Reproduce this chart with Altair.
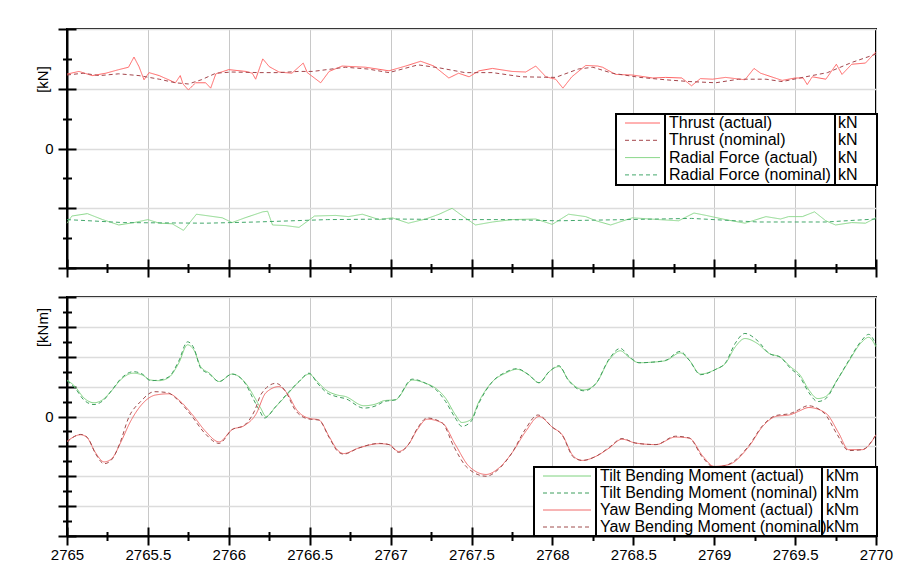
import altair as alt
import pandas as pd

# ---------------- data ----------------
thrust_act_t = [2765.0, 2765.074, 2765.156, 2765.24, 2765.32, 2765.38, 2765.414, 2765.445, 2765.476, 2765.507,
                2765.57, 2765.67, 2765.70, 2765.717, 2765.75, 2765.795, 2765.857, 2765.888, 2765.92, 2766.0,
                2766.105, 2766.145, 2766.166, 2766.21, 2766.25, 2766.31, 2766.39, 2766.46, 2766.485, 2766.568,
                2766.62, 2766.70, 2766.846, 2766.99, 2767.093, 2767.186, 2767.268, 2767.36, 2767.42, 2767.485,
                2767.546, 2767.63, 2767.75, 2767.835, 2767.897, 2767.96, 2768.02, 2768.065, 2768.12, 2768.206,
                2768.28, 2768.31, 2768.39, 2768.494, 2768.62, 2768.70, 2768.80, 2768.86, 2768.915, 2768.99,
                2769.07, 2769.19, 2769.246, 2769.287, 2769.42, 2769.50, 2769.55, 2769.575, 2769.606, 2769.69,
                2769.755, 2769.79, 2769.85, 2769.935, 2770.0]
thrust_act_v = [1.245, 1.29, 1.22, 1.26, 1.32, 1.36, 1.53, 1.37, 1.15, 1.27,
                1.22, 1.10, 1.22, 1.08, 0.98, 1.10, 1.10, 1.01, 1.25, 1.32,
                1.29, 1.26, 1.16, 1.50, 1.37, 1.28, 1.26, 1.43, 1.27, 1.10,
                1.29, 1.38, 1.36, 1.30, 1.38, 1.46, 1.38, 1.18, 1.26, 1.20,
                1.30, 1.34, 1.29, 1.28, 1.38, 1.20, 1.16, 1.01, 1.20, 1.39,
                1.38, 1.36, 1.24, 1.23, 1.18, 1.19, 1.18, 1.05, 1.17, 1.16,
                1.19, 1.15, 1.34, 1.26, 1.14, 1.18, 1.18, 1.07, 1.20, 1.16,
                1.41, 1.24, 1.41, 1.43, 1.62]

thrust_nom_t = [2765.0, 2765.1, 2765.2, 2765.32, 2765.445, 2765.57, 2765.67, 2765.75, 2765.83, 2765.92,
                2766.02, 2766.19, 2766.31, 2766.43, 2766.52, 2766.72, 2766.86, 2766.99, 2767.17, 2767.30,
                2767.46, 2767.63, 2767.81, 2768.02, 2768.16, 2768.25, 2768.37, 2768.54, 2768.70, 2768.85,
                2769.01, 2769.15, 2769.32, 2769.42, 2769.565, 2769.70, 2769.85, 2770.0]
thrust_nom_v = [1.23, 1.26, 1.22, 1.25, 1.22, 1.16, 1.10, 1.08, 1.15, 1.26,
                1.28, 1.27, 1.27, 1.29, 1.29, 1.36, 1.33, 1.27, 1.40, 1.35,
                1.27, 1.27, 1.20, 1.19, 1.33, 1.36, 1.26, 1.19, 1.15, 1.12,
                1.10, 1.16, 1.16, 1.12, 1.20, 1.27, 1.44, 1.58]

radial_act_t = [2765.0, 2765.03, 2765.126, 2765.22, 2765.32, 2765.414, 2765.5, 2765.57, 2765.65, 2765.72,
                2765.80, 2765.88, 2765.96, 2766.02, 2766.1, 2766.21, 2766.24, 2766.27, 2766.35, 2766.434,
                2766.53, 2766.66, 2766.74, 2766.825, 2766.93, 2767.01, 2767.11, 2767.217, 2767.30, 2767.38,
                2767.44, 2767.525, 2767.63, 2767.75, 2767.897, 2767.999, 2768.10, 2768.206, 2768.27, 2768.36,
                2768.494, 2768.66, 2768.78, 2768.875, 2768.95, 2769.07, 2769.19, 2769.32, 2769.41, 2769.46,
                2769.545, 2769.62, 2769.69, 2769.75, 2769.85, 2769.935, 2770.0]
radial_act_v = [-1.25, -1.13, -1.09, -1.19, -1.28, -1.24, -1.19, -1.25, -1.26, -1.37,
                -1.10, -1.13, -1.16, -1.24, -1.16, -1.06, -1.05, -1.28, -1.29, -1.32,
                -1.13, -1.12, -1.14, -1.10, -1.19, -1.16, -1.25, -1.18, -1.10, -1.00,
                -1.12, -1.28, -1.23, -1.19, -1.18, -1.27, -1.10, -1.14, -1.21, -1.28,
                -1.16, -1.19, -1.21, -1.08, -1.12, -1.19, -1.25, -1.14, -1.18, -1.14,
                -1.14, -1.06, -1.21, -1.28, -1.24, -1.25, -1.16]

radial_nom_t = [2765.0, 2765.35, 2765.86, 2766.17, 2766.61, 2767.01, 2767.43, 2767.72, 2768.03, 2768.45,
                2768.86, 2769.27, 2769.69, 2770.0]
radial_nom_v = [-1.19, -1.24, -1.25, -1.23, -1.19, -1.18, -1.19, -1.19, -1.21, -1.19,
                -1.17, -1.23, -1.23, -1.18]

tilt_act_t = [2765.0, 2765.05, 2765.105, 2765.167, 2765.22, 2765.28, 2765.33, 2765.41, 2765.465, 2765.517,
              2765.57, 2765.63, 2765.69, 2765.745, 2765.785, 2765.826, 2765.88, 2765.94, 2766.02, 2766.105,
              2766.156, 2766.197, 2766.23, 2766.29, 2766.35, 2766.434, 2766.496, 2766.547, 2766.6, 2766.67,
              2766.72, 2766.835, 2766.91, 2766.96, 2767.03, 2767.134, 2767.217, 2767.28, 2767.34, 2767.40,
              2767.44, 2767.495, 2767.546, 2767.63, 2767.71, 2767.78, 2767.855, 2767.917, 2767.98, 2768.04,
              2768.10, 2768.195, 2768.27, 2768.35, 2768.42, 2768.47, 2768.535, 2768.62, 2768.70, 2768.79,
              2768.845, 2768.915, 2769.01, 2769.07, 2769.13, 2769.19, 2769.265, 2769.34, 2769.41, 2769.47,
              2769.53, 2769.585, 2769.64, 2769.69, 2769.76, 2769.83, 2769.905, 2769.955, 2770.0]
tilt_act_v = [1.22, 1.00, 0.62, 0.46, 0.56, 0.89, 1.22, 1.45, 1.39, 1.22,
              1.20, 1.31, 1.78, 2.40, 2.22, 1.67, 1.45, 1.17, 1.42, 1.11,
              0.67, 0.28, 0.00, 0.33, 0.67, 1.17, 1.42, 1.17, 0.89, 0.72,
              0.67, 0.36, 0.42, 0.53, 0.56, 1.22, 1.11, 0.94, 0.61, 0.06,
              -0.20, -0.11, 0.50, 1.17, 1.45, 1.58, 1.39, 1.13, 1.50, 1.67,
              1.22, 0.89, 1.11, 1.89, 2.20, 2.00, 1.80, 1.82, 1.87, 2.13,
              1.89, 1.42, 1.58, 1.78, 2.33, 2.61, 2.45, 2.11, 1.98, 1.67,
              1.39, 0.89, 0.60, 0.67, 1.22, 1.83, 2.45, 2.65, 2.33]

tilt_nom_t = [2765.0, 2765.05, 2765.105, 2765.167, 2765.22, 2765.28, 2765.33, 2765.41, 2765.465, 2765.517,
              2765.57, 2765.63, 2765.69, 2765.745, 2765.785, 2765.826, 2765.88, 2765.94, 2766.02, 2766.105,
              2766.15, 2766.19, 2766.22, 2766.29, 2766.35, 2766.434, 2766.496, 2766.547, 2766.6, 2766.67,
              2766.72, 2766.835, 2766.91, 2766.96, 2767.03, 2767.134, 2767.217, 2767.28, 2767.34, 2767.40,
              2767.44, 2767.495, 2767.546, 2767.63, 2767.71, 2767.78, 2767.855, 2767.917, 2767.98, 2768.04,
              2768.10, 2768.195, 2768.27, 2768.35, 2768.42, 2768.47, 2768.535, 2768.62, 2768.70, 2768.79,
              2768.845, 2768.915, 2769.01, 2769.07, 2769.13, 2769.19, 2769.265, 2769.34, 2769.41, 2769.47,
              2769.53, 2769.585, 2769.64, 2769.69, 2769.76, 2769.83, 2769.905, 2769.955, 2770.0]
tilt_nom_v = [1.20, 0.95, 0.55, 0.40, 0.52, 0.90, 1.25, 1.50, 1.42, 1.20,
              1.22, 1.33, 1.85, 2.50, 2.28, 1.62, 1.42, 1.17, 1.42, 1.08,
              0.60, 0.20, -0.05, 0.33, 0.70, 1.17, 1.45, 1.12, 0.82, 0.66,
              0.60, 0.28, 0.36, 0.50, 0.56, 1.25, 1.11, 0.90, 0.50, -0.05,
              -0.33, -0.18, 0.45, 1.17, 1.48, 1.60, 1.39, 1.13, 1.50, 1.70,
              1.20, 0.86, 1.11, 1.92, 2.28, 2.03, 1.80, 1.82, 1.88, 2.18,
              1.89, 1.40, 1.58, 1.80, 2.45, 2.78, 2.55, 2.11, 1.98, 1.62,
              1.32, 0.80, 0.50, 0.60, 1.22, 1.86, 2.50, 2.75, 2.40]

yaw_act_t = [2765.0, 2765.085, 2765.126, 2765.177, 2765.23, 2765.28, 2765.33, 2765.394, 2765.465, 2765.548,
             2765.63, 2765.69, 2765.775, 2765.857, 2765.94, 2766.02, 2766.094, 2766.166, 2766.23, 2766.31,
             2766.36, 2766.42, 2766.494, 2766.556, 2766.62, 2766.67, 2766.71, 2766.80, 2766.93, 2766.99,
             2767.05, 2767.11, 2767.165, 2767.226, 2767.32, 2767.40, 2767.485, 2767.59, 2767.67, 2767.75,
             2767.835, 2767.917, 2768.0, 2768.06, 2768.13, 2768.185, 2768.27, 2768.35, 2768.43, 2768.515,
             2768.64, 2768.76, 2768.845, 2768.93, 2769.0, 2769.09, 2769.215, 2769.30, 2769.38, 2769.47,
             2769.52, 2769.585, 2769.69, 2769.77, 2769.83, 2769.915, 2770.0]
yaw_act_v = [-0.83, -0.61, -0.72, -1.22, -1.52, -1.39, -0.89, -0.15, 0.42, 0.72,
             0.76, 0.56, 0.06, -0.50, -0.85, -0.44, -0.31, 0.06, 0.80, 1.00,
             0.78, 0.22, -0.06, -0.11, -0.67, -1.11, -1.24, -1.06, -0.91, -0.94,
             -1.17, -0.94, -0.44, -0.09, -0.22, -0.94, -1.67, -1.94, -1.72, -1.22,
             -0.50, 0.00, -0.36, -0.61, -1.33, -1.47, -1.33, -1.06, -0.76, -0.89,
             -0.94, -0.69, -0.72, -1.33, -1.67, -1.61, -1.00, -0.33, 0.00, 0.06,
             0.17, 0.30, 0.11, -0.56, -1.11, -1.11, -0.61]

yaw_nom_t = [2765.0, 2765.085, 2765.126, 2765.177, 2765.23, 2765.28, 2765.33, 2765.38, 2765.455, 2765.54,
             2765.62, 2765.68, 2765.765, 2765.85, 2765.94, 2766.02, 2766.094, 2766.16, 2766.2, 2766.29,
             2766.35, 2766.41, 2766.49, 2766.556, 2766.62, 2766.67, 2766.71, 2766.80, 2766.93, 2766.99,
             2767.05, 2767.11, 2767.165, 2767.226, 2767.32, 2767.39, 2767.475, 2767.59, 2767.67, 2767.75,
             2767.83, 2767.91, 2768.0, 2768.06, 2768.13, 2768.185, 2768.27, 2768.35, 2768.43, 2768.515,
             2768.64, 2768.76, 2768.845, 2768.93, 2769.0, 2769.09, 2769.215, 2769.30, 2769.38, 2769.47,
             2769.52, 2769.58, 2769.68, 2769.76, 2769.83, 2769.915, 2770.0]
yaw_nom_v = [-0.85, -0.60, -0.70, -1.25, -1.58, -1.42, -0.85, -0.05, 0.50, 0.83,
             0.80, 0.58, 0.06, -0.55, -0.90, -0.44, -0.30, 0.20, 0.75, 1.11,
             0.85, 0.22, -0.08, -0.12, -0.70, -1.15, -1.26, -1.06, -0.90, -0.94,
             -1.20, -0.94, -0.40, -0.05, -0.22, -1.00, -1.72, -2.00, -1.75, -1.22,
             -0.45, 0.05, -0.36, -0.62, -1.36, -1.47, -1.33, -1.04, -0.74, -0.89,
             -0.94, -0.66, -0.72, -1.38, -1.70, -1.60, -0.97, -0.30, 0.03, 0.10,
             0.22, 0.36, 0.11, -0.60, -1.14, -1.11, -0.61]

top_names = ["Thrust (actual)", "Thrust (nominal)", "Radial Force (actual)", "Radial Force (nominal)"]
top_units = ["kN", "kN", "kN", "kN"]
top_kinds = ["actual", "nominal", "actual", "nominal"]
bot_names = ["Tilt Bending Moment (actual)", "Tilt Bending Moment (nominal)",
             "Yaw Bending Moment (actual)", "Yaw Bending Moment (nominal)"]
bot_units = ["kNm", "kNm", "kNm", "kNm"]
bot_kinds = ["actual", "nominal", "actual", "nominal"]

x_major = [2765, 2765.5, 2766, 2766.5, 2767, 2767.5, 2768, 2768.5, 2769, 2769.5, 2770]
x_minor = [2765.25, 2765.75, 2766.25, 2766.75, 2767.25, 2767.75, 2768.25, 2768.75, 2769.25, 2769.75]
top_y_major = [-2, -1, 0, 1, 2]
top_y_minor = [-1.5, -0.5, 0.5, 1.5]
bot_y_major = [-4, -3, -2, -1, 0, 1, 2, 3, 4]
bot_y_minor = [-3.5, -2.5, -1.5, -0.5, 0.5, 1.5, 2.5, 3.5]

# ---------------- styles ----------------
FONT = "Liberation Sans"
top_colors = ["#ff6464", "#a4464c", "#8ad88a", "#44a86c"]
bot_colors = ["#7fd27f", "#3c9e5c", "#f06a6a", "#a04c4c"]
W, H = 809, 239


def series_df(names, kinds, ts, vs):
    parts = []
    for n, k, t, v in zip(names, kinds, ts, vs):
        parts.append(pd.DataFrame({"t": t, "v": v, "series": n, "kind": k}))
    return pd.concat(parts, ignore_index=True)


def panel(df, names, units, kinds, colors, ydom, ymaj, ymin, ytitle, title_y, show_xlabels, leg, interp):
    xs = alt.Scale(domain=[2765, 2770], nice=False, zero=False)
    ys = alt.Scale(domain=ydom, nice=False, zero=False)
    color = alt.Color("series:N", scale=alt.Scale(domain=names, range=colors), legend=None)
    dash = alt.StrokeDash("kind:N", scale=alt.Scale(domain=["actual", "nominal"], range=[[1, 0], [4, 3]]),
                          legend=None)

    main_x = alt.Axis(orient="bottom", values=x_major, grid=True, gridColor="#c8c8c8", gridWidth=1,
                      ticks=False, tickSize=0, domain=True, domainColor="black", domainWidth=2,
                      labels=show_xlabels, labelFontSize=15, labelPadding=11, labelColor="black",
                      labelFont=FONT, labelFlush=False, labelOverlap=False, format=".1~f", title=None)
    main_y = alt.Axis(orient="left", values=ymaj, grid=True, gridColor="#dcdcdc", gridWidth=1.5,
                      ticks=False, tickSize=0, domain=True, domainColor="black", domainWidth=2,
                      labelExpr="datum.value == 0 ? '0' : ''", labelFontSize=15, labelPadding=14,
                      labelColor="black", labelFont=FONT, title=ytitle, titleFont=FONT, titleFontSize=15,
                      titleFontWeight="normal", titleColor="black", titleX=-25, titleY=title_y,
                      titleAngle=270, titleAlign="center", titleBaseline="middle")

    lines = alt.Chart(df).mark_line(strokeWidth=1, interpolate=interp).encode(
        x=alt.X("t:Q", scale=xs, axis=main_x),
        y=alt.Y("v:Q", scale=ys, axis=main_y),
        color=color, strokeDash=dash)

    def tick_layer(xv, yv, size):
        ax = alt.Axis(orient="bottom", values=xv, grid=False, domain=False, labels=False, ticks=True,
                      tickSize=size, tickWidth=2, tickColor="black", offset=-size / 2, title=None)
        ay = alt.Axis(orient="left", values=yv, grid=False, domain=False, labels=False, ticks=True,
                      tickSize=size, tickWidth=2, tickColor="black", offset=-size / 2, title=None)
        return alt.Chart(df).mark_point(opacity=0).encode(
            x=alt.X("t:Q", scale=xs, axis=ax), y=alt.Y("v:Q", scale=ys, axis=ay))

    major_ticks = tick_layer(x_major, ymaj, 18)
    minor_ticks = tick_layer(x_minor, ymin, 9)

    # legend table (drawn as marks)
    ldf = pd.DataFrame({"series": names, "unit": units, "kind": kinds, "idx": list(range(len(names)))})
    one = pd.DataFrame({"k": [0]})
    box = alt.Chart(one).mark_rect(fill="white", stroke="black", strokeWidth=2).encode(
        x=alt.value(leg["x0"]), x2=alt.value(leg["x1"]), y=alt.value(leg["y0"]), y2=alt.value(leg["y1"]))
    div1 = alt.Chart(one).mark_rule(color="black", strokeWidth=2).encode(
        x=alt.value(leg["d1"]), y=alt.value(leg["y0"]), y2=alt.value(leg["y1"]))
    div2 = alt.Chart(one).mark_rule(color="black", strokeWidth=2).encode(
        x=alt.value(leg["d2"]), y=alt.value(leg["y0"]), y2=alt.value(leg["y1"]))
    base = alt.Chart(ldf).transform_calculate(ly=f"{leg['r0']} + datum.idx * {leg['step']}")
    samples = base.mark_rule(strokeWidth=1).encode(
        x=alt.value(leg["s0"]), x2=alt.value(leg["s1"]),
        y=alt.Y("ly:Q", scale=None, axis=None), color=color, strokeDash=dash)
    names_t = base.mark_text(align="left", baseline="middle", fontSize=16, font=FONT, color="black").encode(
        x=alt.value(leg["tx"]), y=alt.Y("ly:Q", scale=None, axis=None), text="series:N")
    units_t = base.mark_text(align="left", baseline="middle", fontSize=16, font=FONT, color="black").encode(
        x=alt.value(leg["ux"]), y=alt.Y("ly:Q", scale=None, axis=None), text="unit:N")

    return alt.layer(lines, major_ticks, minor_ticks, box, div1, div2, samples, names_t, units_t).resolve_axis(
        x="independent", y="independent").properties(width=W, height=H)


top_df = series_df(top_names, top_kinds, [thrust_act_t, thrust_nom_t, radial_act_t, radial_nom_t],
                   [thrust_act_v, thrust_nom_v, radial_act_v, radial_nom_v])
bot_df = series_df(bot_names, bot_kinds, [tilt_act_t, tilt_nom_t, yaw_act_t, yaw_nom_t],
                   [tilt_act_v, tilt_nom_v, yaw_act_v, yaw_nom_v])

top_leg = dict(x0=549, x1=810, y0=85, y1=156, d1=598, d2=768, r0=94, step=17.3, s0=558, s1=593, tx=602, ux=771)
bot_leg = dict(x0=467, x1=810, y0=170, y1=239, d1=529, d2=755, r0=179, step=17, s0=476, s1=524, tx=533, ux=759)

top = panel(top_df, top_names, top_units, top_kinds, top_colors, [-2, 2], top_y_major, top_y_minor,
            "[kN]", 50, False, top_leg, "linear")
bottom = panel(bot_df, bot_names, bot_units, bot_kinds, bot_colors, [-4, 4], bot_y_major, bot_y_minor,
               "[kNm]", 30, True, bot_leg, "monotone")

chart = alt.vconcat(top, bottom, spacing=16).resolve_scale(color="independent", strokeDash="independent").properties(
    padding={"left": 26, "top": 19, "right": 5, "bottom": 5}, background="white"
).configure(font=FONT).configure_view(stroke="black", strokeWidth=2)

chart.save("out.html", embed_options={"renderer": "svg", "actions": False})
